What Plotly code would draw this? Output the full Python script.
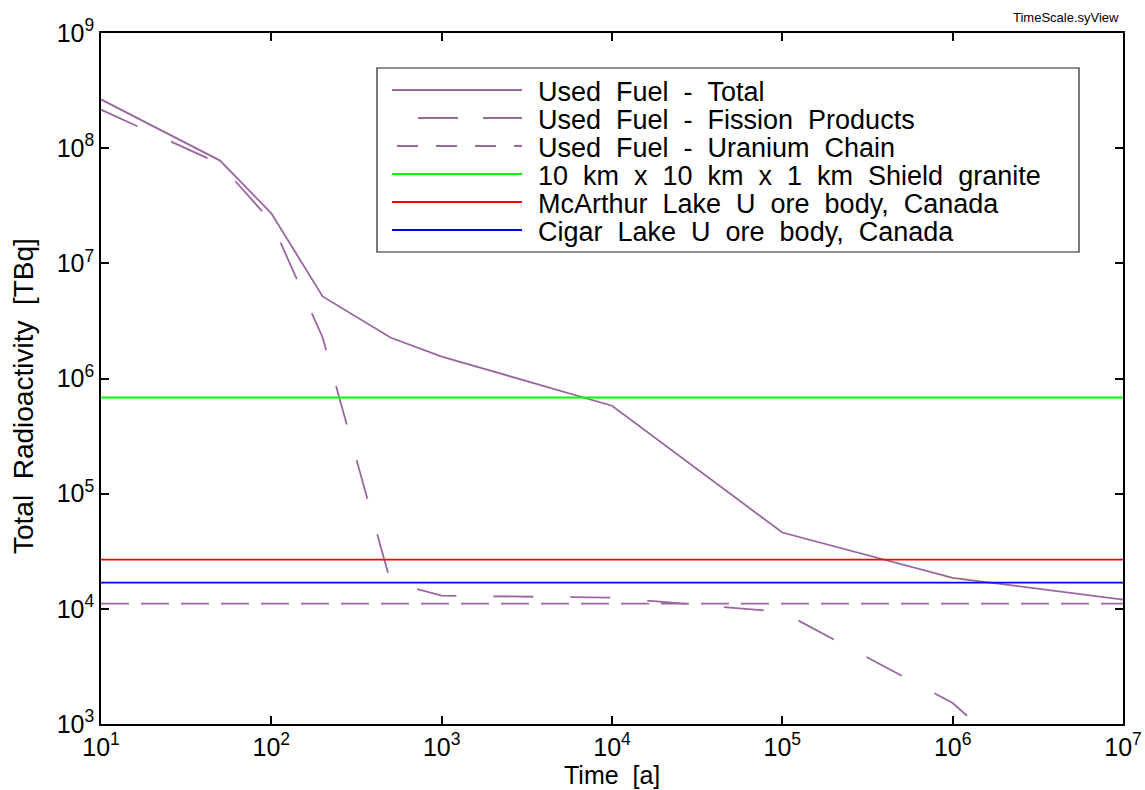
import plotly.graph_objects as go

# ---------------- data ----------------
time_a = [10, 50, 100, 200, 500, 1000, 1e4, 1e5, 1e6, 1e7]
total = [2.65e8, 7.8e7, 2.72e7, 5.16e6, 2.27e6, 1.55e6, 5.8e5, 4.6e4, 1.86e4, 1.2e4]
fission = [2.16e8, 7.3e7, 2.3e7, 2.27e6, 1.72e4, 1.30e4, 1.25e4, 9.4e3, 1.52e3, 75]
uranium = [1.11e4] * len(time_a)
granite = [6.84e5] * len(time_a)
mcarthur = [2.67e4] * len(time_a)
cigar = [1.69e4] * len(time_a)

series_names = [
    "Used Fuel - Total",
    "Used Fuel - Fission Products",
    "Used Fuel - Uranium Chain",
    "10 km x 10 km x 1 km Shield granite",
    "McArthur Lake U ore body, Canada",
    "Cigar Lake U ore body, Canada",
]
series_values = [total, fission, uranium, granite, mcarthur, cigar]
PURPLE = "rgb(153,102,160)"
series_colors = [PURPLE, PURPLE, PURPLE, "#00ff00", "#ff0000", "#0000ff"]
plot_dash = ["solid", "40px,37px", "28px,12px", "solid", "solid", "solid"]
legend_dash = ["solid", "40px,25px", "21px,18px", "solid", "solid", "solid"]

x_tickvals = [10, 100, 1000, 1e4, 1e5, 1e6, 1e7]
x_ticktext = ["10<sup>%d</sup>" % e for e in range(1, 8)]
y_tickvals = [1e3, 1e4, 1e5, 1e6, 1e7, 1e8, 1e9]
y_ticktext = ["10<sup>%d</sup>" % e for e in range(3, 10)]

FONT = "Liberation Sans, Arial, Helvetica, sans-serif"


def sp(s):
    return s.replace(" ", "\u00a0\u00a0")


# pixel geometry of plot area (for paper conversions of legend etc.)
L, R, T, B = 101, 1123, 33, 724
W, H = R - L, B - T


def px_x(p):
    return (p - L) / W


def px_y(p):
    return (B - p) / H


fig = go.Figure()
for name, vals, col, dash in zip(series_names, series_values, series_colors, plot_dash):
    fig.add_trace(go.Scatter(
        x=time_a, y=vals, mode="lines", name=name, showlegend=False,
        line=dict(color=col, width=1.8, dash=dash),
    ))

shapes = []
annotations = []

# custom legend box
shapes.append(dict(type="rect", xref="paper", yref="paper",
                   x0=px_x(377), x1=px_x(1079), y0=px_y(252), y1=px_y(68),
                   line=dict(color="#222222", width=1.2), fillcolor="white", layer="above"))
rows = [90, 118, 146, 174, 202, 230]
starts = [392, 418, 397, 392, 392, 392]
for ry, x0, name, col, dash in zip(rows, starts, series_names, series_colors, legend_dash):
    shapes.append(dict(type="line", xref="paper", yref="paper",
                       x0=px_x(x0), x1=px_x(522), y0=px_y(ry), y1=px_y(ry),
                       line=dict(color=col, width=1.8, dash=dash), layer="above"))
    annotations.append(dict(xref="paper", yref="paper", x=px_x(536), y=px_y(ry + 2),
                            xanchor="left", yanchor="middle", showarrow=False,
                            text=sp(name), font=dict(family=FONT, size=27, color="black")))

# axis titles
annotations.append(dict(xref="paper", yref="paper", x=0.5, y=px_y(775),
                        xanchor="center", yanchor="middle", showarrow=False,
                        text=sp("Time [a]"), font=dict(family=FONT, size=25, color="black")))
annotations.append(dict(xref="paper", yref="paper", x=px_x(23), y=px_y(396),
                        xanchor="center", yanchor="middle", showarrow=False, textangle=-90,
                        text=sp("Total Radioactivity [TBq]"),
                        font=dict(family=FONT, size=28, color="black")))
# top-right tag
annotations.append(dict(xref="paper", yref="paper", x=px_x(1121), y=px_y(27),
                        xanchor="right", yanchor="bottom", showarrow=False,
                        text="TimeScale.syView", font=dict(family=FONT, size=13, color="black")))

axis_common = dict(
    showgrid=False, zeroline=False, showline=True, linecolor="black", linewidth=1.5,
    mirror="ticks", ticks="inside", ticklen=8, tickwidth=1.5, tickcolor="black",
    tickfont=dict(family=FONT, size=25, color="black"), automargin=False,
)

fig.update_layout(
    width=1145, height=790,
    margin=dict(l=L, r=1145 - R, t=T, b=790 - B, pad=0, autoexpand=False),
    paper_bgcolor="white", plot_bgcolor="white",
    shapes=shapes, annotations=annotations,
    xaxis=dict(type="log", range=[1, 7], tickvals=x_tickvals, ticktext=x_ticktext, **axis_common),
    yaxis=dict(type="log", range=[3, 9], tickvals=y_tickvals, ticktext=y_ticktext, **axis_common),
    font=dict(family=FONT, color="black"),
)

fig.write_html("out.html")
